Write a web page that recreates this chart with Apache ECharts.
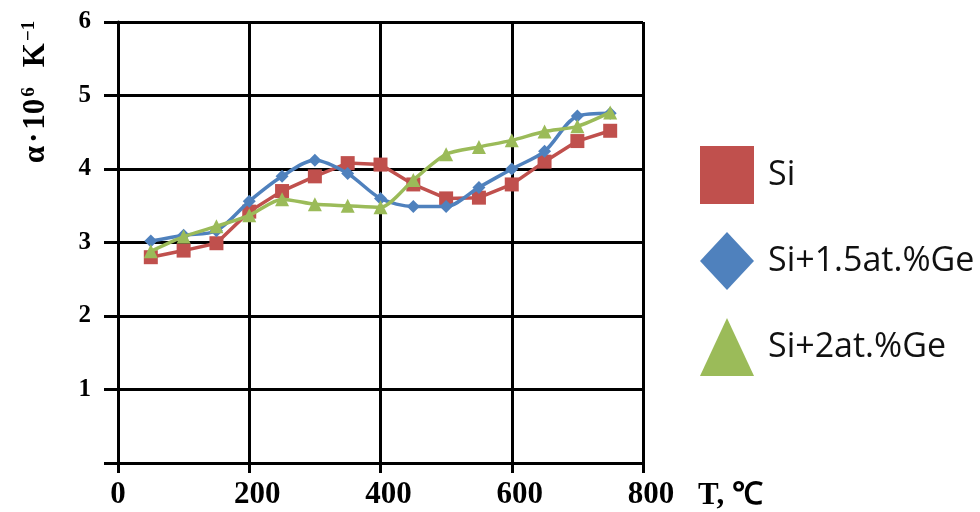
<!DOCTYPE html>
<html><head><meta charset="utf-8">
<script src="https://cdn.jsdelivr.net/npm/echarts@6/dist/echarts.min.js"></script>
<style>html,body{margin:0;padding:0;background:#fff}#c{width:980px;height:512px}</style>
</head><body><div id="c"></div>
<script>
const temps = [50,100,150,200,250,300,350,400,450,500,550,600,650,700,750];
const siVals = [2.80,2.89,2.99,3.42,3.70,3.90,4.08,4.06,3.79,3.60,3.61,3.79,4.10,4.38,4.52];
const si15Vals = [3.02,3.10,3.16,3.56,3.90,4.12,3.94,3.60,3.49,3.49,3.75,4.00,4.24,4.72,4.76];
const si2Vals = [2.88,3.08,3.22,3.37,3.59,3.52,3.50,3.48,3.85,4.20,4.30,4.39,4.51,4.58,4.77];
const seriesNames = ['Si','Si+1.5at.%Ge','Si+2at.%Ge'];
const xTicks = [0,200,400,600,800];
const yTicks = [0,1,2,3,4,5,6];

const pair = v => temps.map((t,i)=>[t,v[i]]);
const serif = 'Liberation Serif';
const chart = echarts.init(document.getElementById('c'));
chart.setOption({
  animation:false,
  backgroundColor:'#fff',
  grid:{left:118,top:22,right:337,bottom:49,containLabel:false},
  xAxis:{type:'value',min:xTicks[0],max:xTicks[xTicks.length-1],interval:200,
    axisLine:{onZero:false,lineStyle:{color:'#000',width:3}},
    axisTick:{show:true,length:10,lineStyle:{color:'#000',width:3}},
    axisLabel:{color:'#000',fontFamily:serif,fontWeight:'bold',fontSize:31,margin:16,
      formatter:v=>!xTicks.includes(v)?'':(v===0?'{z|0}':'{o|'+v+'}'),
      rich:{z:{fontFamily:serif,fontWeight:'bold',fontSize:31,color:'#000'},
            o:{fontFamily:serif,fontWeight:'bold',fontSize:31,color:'#000',padding:[0,0,0,16]}}},
    splitLine:{show:true,lineStyle:{color:'#000',width:3}}},
  yAxis:{type:'value',min:yTicks[0],max:yTicks[yTicks.length-1],interval:1,
    axisLine:{show:true,lineStyle:{color:'#000',width:3}},
    axisTick:{show:true,length:14,lineStyle:{color:'#000',width:3}},
    axisLabel:{color:'#000',fontFamily:serif,fontWeight:'bold',fontSize:25,margin:27,
      formatter:v=>v===0?'':String(v)},
    splitLine:{show:true,lineStyle:{color:'#000',width:3}}},
  legend:{orient:'vertical',left:695,top:141,itemWidth:54,itemHeight:58,itemGap:28,
    symbolKeepAspect:false,
    textStyle:{color:'#111',fontFamily:'Open Sans',fontSize:34,padding:[0,0,0,9]},
    data:[{name:seriesNames[0],icon:'rect'},{name:seriesNames[1],icon:'diamond'},{name:seriesNames[2],icon:'triangle'}]},
  graphic:[
    {type:'text',x:36,y:92,rotation:Math.PI/2,
      style:{text:'{a|α}{d|·}{a|10}{s|6}{g| }{a|K}{s|−1}',align:'center',verticalAlign:'middle',fill:'#000',
        rich:{a:{fontFamily:serif,fontWeight:'bold',fontSize:31,fill:'#000'},
              d:{fontFamily:serif,fontWeight:'bold',fontSize:31,fill:'#000',padding:[0,3,0,3]},
              g:{fontFamily:serif,fontSize:31,fill:'#000',width:20},
              s:{fontFamily:serif,fontWeight:'bold',fontSize:19,fill:'#000',verticalAlign:'top',padding:[0,0,14,2]}}}},
    {type:'text',left:698,top:480,style:{text:'T, ℃',fontFamily:serif,fontWeight:'bold',fontSize:31,fill:'#000'}}
  ],
  series:[
    {name:seriesNames[0],type:'line',data:pair(siVals),symbol:'rect',symbolSize:14,
      itemStyle:{color:'#C0504D'},lineStyle:{color:'#C0504D',width:3.5},z:2},
    {name:seriesNames[1],type:'line',data:pair(si15Vals),symbol:'diamond',symbolSize:13,smooth:0.3,
      itemStyle:{color:'#4F81BD'},lineStyle:{color:'#4F81BD',width:3.5},z:3},
    {name:seriesNames[2],type:'line',data:pair(si2Vals),symbol:'triangle',symbolSize:14,smooth:0.25,
      itemStyle:{color:'#9BBB59'},lineStyle:{color:'#9BBB59',width:3.5},z:4}
  ]
});
</script></body></html>
